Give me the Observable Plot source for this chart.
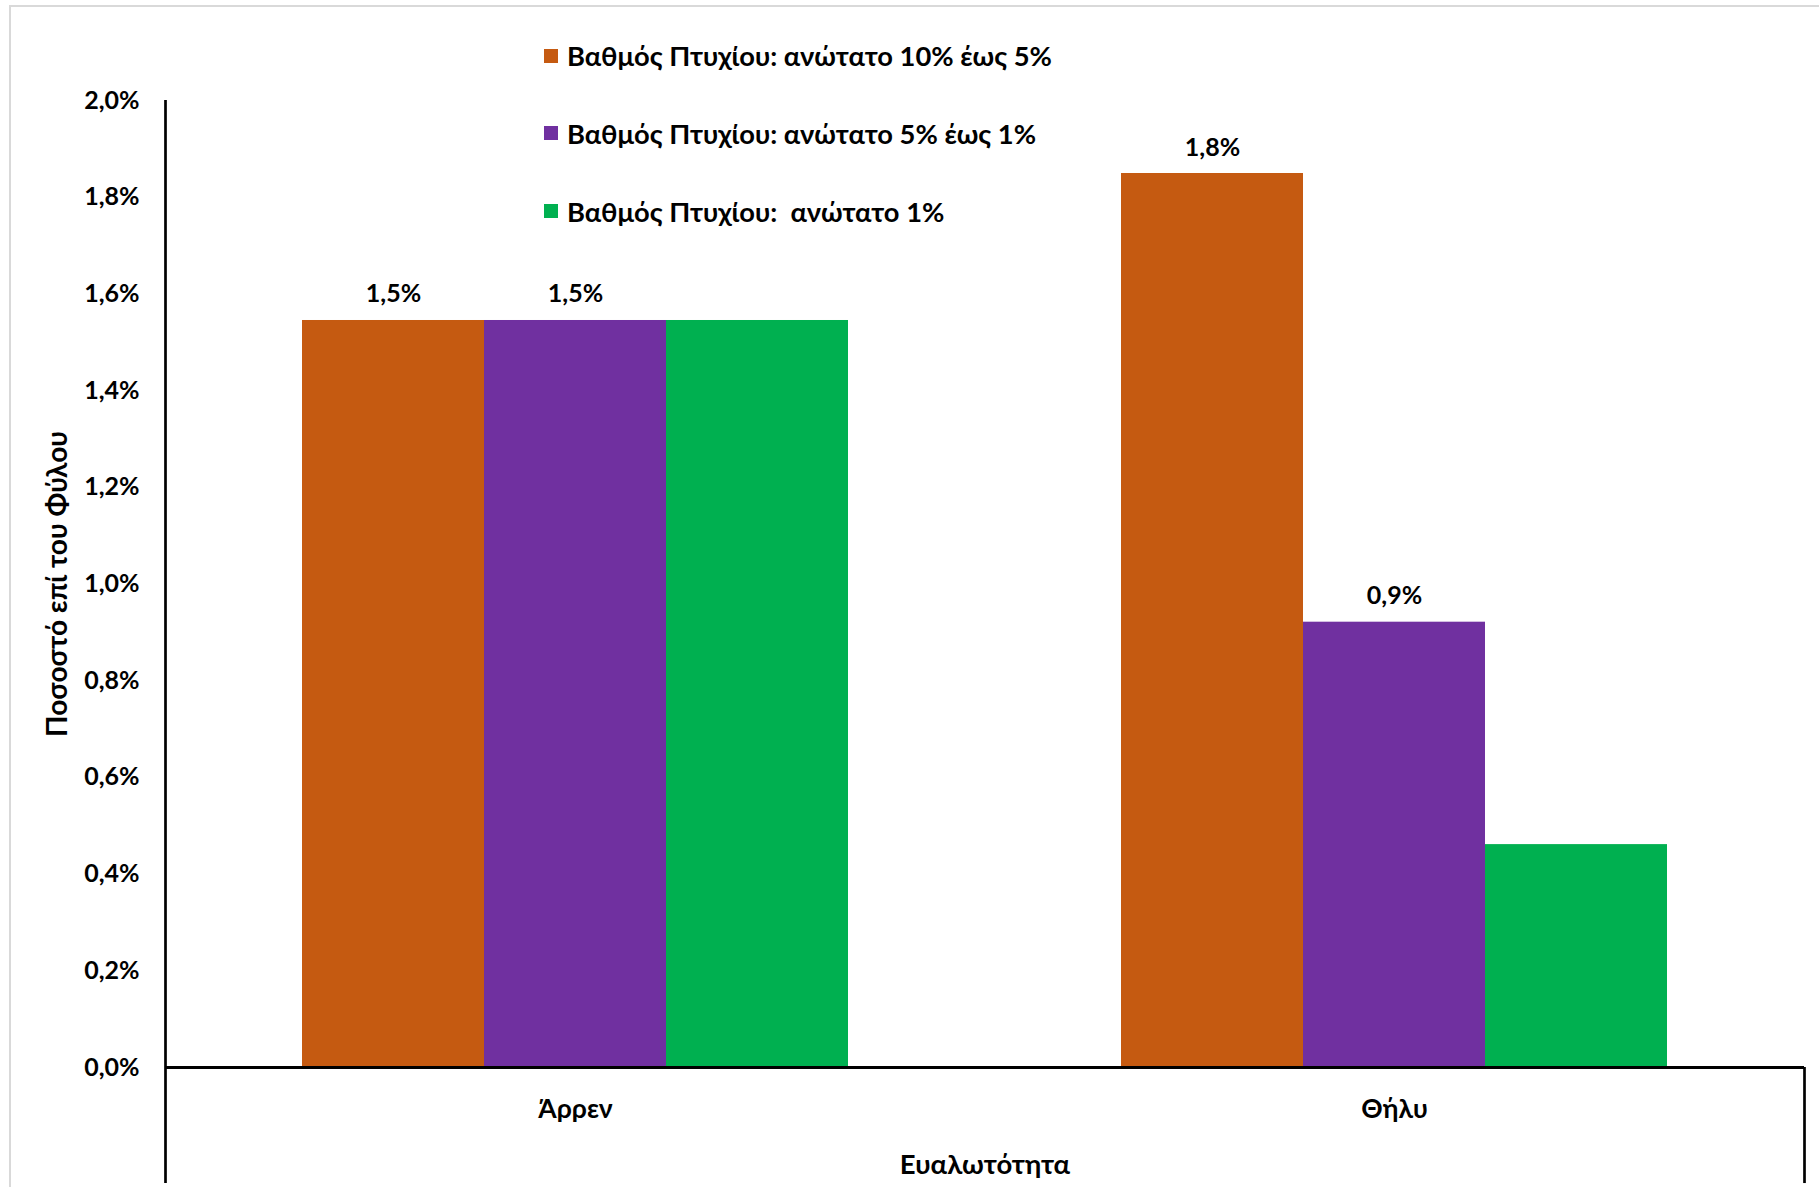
<!DOCTYPE html>
<html>
<head>
<meta charset="utf-8">
<script src="https://cdn.jsdelivr.net/npm/d3@7"></script>
<script src="https://cdn.jsdelivr.net/npm/@observablehq/plot@0.6"></script>
<style>
  html, body { margin: 0; padding: 0; background: #fff; }
  #wrap { position: relative; width: 1819px; height: 1187px; overflow: hidden; background: #fff; }
  #wrap svg { position: absolute; left: 0; top: 0; }
  #border { position: absolute; left: 9px; top: 5px; right: -4px; bottom: -4px; border-top: 2px solid #d9d9d9; border-left: 2px solid #d9d9d9; }
  #legend { position: absolute; left: 544px; top: 0; font-family: Lato, "Open Sans", sans-serif; font-weight: bold; font-size: 27.3px; color: #000; }
  .item { position: absolute; left: 0; display: flex; align-items: center; white-space: pre; height: 30px; }
  .sw { width: 14px; height: 14px; margin-right: 9px; flex: none; }
</style>
</head>
<body>
<div id="wrap"><div id="border"></div><div id="legend"></div></div>
<script>
// ---- data ----
const categories = ["Άρρεν", "Θήλυ"];
const series = [
  "Βαθμός Πτυχίου: ανώτατο 10% έως 5%",
  "Βαθμός Πτυχίου: ανώτατο 5% έως 1%",
  "Βαθμός Πτυχίου:  ανώτατο 1%"
];
const colors = ["#C55A11", "#7030A0", "#00B050"];
// values in percent, per category (Άρρεν, Θήλυ)
const valuesTop10to5 = [1.545, 1.849];
const valuesTop5to1 = [1.545, 0.921];
const valuesTop1 = [1.545, 0.461];
// data labels shown in the chart ("" = no label)
const labelsTop10to5 = ["1,5%", "1,8%"];
const labelsTop5to1 = ["1,5%", "0,9%"];
const labelsTop1 = ["", ""];
const yTicks = [0, 0.2, 0.4, 0.6, 0.8, 1.0, 1.2, 1.4, 1.6, 1.8, 2.0];
const yTitle = "Ποσοστό επί του Φύλου";
const xTitle = "Ευαλωτότητα";

const seriesValues = [valuesTop10to5, valuesTop5to1, valuesTop1];
const seriesLabels = [labelsTop10to5, labelsTop5to1, labelsTop1];
const data = [];
series.forEach((s, i) => categories.forEach((c, j) => {
  data.push({cat: c, series: s, value: seriesValues[i][j], label: seriesLabels[i][j]});
}));

const W = 1819, H = 1187;
const M = {left: 165, right: 15, top: 100, bottom: 120};
const font = "Lato, 'Open Sans', sans-serif";
const fmt = d => d.toFixed(1).replace(".", ",") + "%";
const axisExtent = -0.24; // category-axis divider lines reach below the baseline

const main = Plot.plot({
  width: W, height: H,
  marginLeft: M.left, marginRight: M.right, marginTop: M.top, marginBottom: M.bottom,
  style: {fontFamily: font, fontSize: "25px", fontWeight: "bold", color: "#000", background: "transparent"},
  fx: {domain: categories, paddingInner: 0.333, paddingOuter: 0.1667, label: null},
  x: {domain: series, padding: 0, axis: null},
  y: {domain: [0, 2], axis: null},
  color: {domain: series, range: colors},
  marks: [
    Plot.barY(data, {fx: "cat", x: "series", y: "value", fill: "series"}),
    Plot.text(data.filter(d => d.label), {fx: "cat", x: "series", y: "value", text: "label", dy: -26, fontSize: 25, fontWeight: "bold", fill: "#000"}),
    Plot.axisFx({anchor: "bottom", tickSize: 0, tickPadding: 32, label: null, fontSize: 26.5, fontWeight: "bold"})
  ]
});

const overlay = Plot.plot({
  width: W, height: H,
  marginLeft: M.left, marginRight: M.right, marginTop: M.top, marginBottom: M.bottom,
  style: {fontFamily: font, fontSize: "25px", fontWeight: "bold", color: "#000", background: "transparent"},
  x: {domain: [0, 1], axis: null},
  y: {domain: [0, 2]},
  marks: [
    Plot.axisY({ticks: yTicks, tickFormat: fmt, tickSize: 0, tickPadding: 26, label: null, fontSize: 25, fontWeight: "bold"}),
    Plot.ruleY([0], {stroke: "#000", strokeWidth: 2.8}),
    Plot.ruleX([0], {y1: 2, y2: axisExtent, stroke: "#000", strokeWidth: 2.7}),
    Plot.ruleX([1], {y1: 0, y2: axisExtent, stroke: "#000", strokeWidth: 2.7}),
    Plot.text([yTitle], {frameAnchor: "left", textAnchor: "middle", dx: -107, rotate: -90, fontSize: 28, fontWeight: "bold", fill: "#000"}),
    Plot.text([xTitle], {frameAnchor: "bottom", textAnchor: "middle", dy: 106, fontSize: 27.5, fontWeight: "bold", fill: "#000"})
  ]
});

const wrap = document.getElementById("wrap");
wrap.appendChild(main);
wrap.appendChild(overlay);

const legend = document.getElementById("legend");
const rowY = [55.7, 133.4, 211];
series.forEach((s, i) => {
  const item = document.createElement("div");
  item.className = "item";
  item.style.top = (rowY[i] - 15) + "px";
  const sw = document.createElement("span");
  sw.className = "sw";
  sw.style.background = colors[i];
  const t = document.createElement("span");
  t.textContent = s;
  item.appendChild(sw);
  item.appendChild(t);
  legend.appendChild(item);
});
</script>
</body>
</html>
